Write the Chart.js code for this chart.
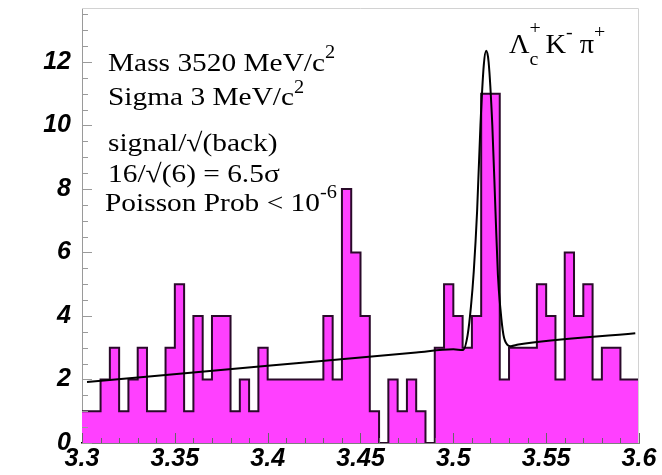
<!DOCTYPE html>
<html>
<head>
<meta charset="utf-8">
<script src="https://cdn.jsdelivr.net/npm/chart.js@4.4.0/dist/chart.umd.min.js"></script>
<style>
  html, body { margin: 0; padding: 0; background: #fff; }
  #wrap { width: 662px; height: 475px; }
</style>
</head>
<body>
<div id="wrap"><canvas id="massChart" width="662" height="475"></canvas></div>
<script>
// histogram: 60 bins of 5 MeV from 3.300 to 3.600 GeV
const binStart = 3.3;
const binWidth = 0.005;
const counts = [
  1, 1, 2, 3, 1, 2, 3, 1, 1, 3,
  5, 1, 4, 2, 4, 4, 1, 2, 1, 3,
  2, 2, 2, 2, 2, 2, 4, 2, 8, 6,
  4, 1, 0, 2, 1, 2, 1, 0, 3, 5,
  4, 3, 4, 11, 11, 2, 3, 3, 3, 5,
  4, 2, 6, 4, 5, 2, 3, 3, 2, 2
];

// fit curve (gaussian + linear background)
const fitMass = [3.3027, 3.40, 3.48, 3.500, 3.5052, 3.5077, 3.5095, 3.511, 3.5128, 3.5146, 3.5164, 3.5177,
  3.519, 3.521, 3.5227, 3.524, 3.5254, 3.527, 3.529, 3.531, 3.535, 3.598];
const fitValue = [1.92, 2.43, 2.85, 2.95, 2.93, 3.4, 4.3, 5.4, 7.3, 10.0, 11.9, 12.35,
  12.0, 10.0, 7.3, 5.3, 4.2, 3.4, 3.1, 3.05, 3.1, 3.46];

const xTicks = [3.3, 3.35, 3.4, 3.45, 3.5, 3.55, 3.6];
const yTicks = [0, 2, 4, 6, 8, 10, 12];

const infoLines = [
  { x: 108, y: 70.5, parts: [{ t: "Mass 3520 MeV/c" }, { t: "2", sup: true }] },
  { x: 108, y: 105, parts: [{ t: "Sigma 3 MeV/c" }, { t: "2", sup: true }] },
  { x: 108, y: 150.5, parts: [{ t: "signal/√(back)" }] },
  { x: 108, y: 181.5, parts: [{ t: "16/√(6) = 6.5σ" }] },
  { x: 105, y: 210.5, parts: [{ t: "Poisson Prob < 10" }, { t: "-6", sup: true }] }
];

const histPoints = counts.map((c, i) => ({ x: +(binStart + i * binWidth).toFixed(3), y: c }));
histPoints.push({ x: 3.6, y: counts[counts.length - 1] });
histPoints.push({ x: 3.6, y: 0 });

const fitPoints = fitMass.map((m, i) => ({ x: m, y: fitValue[i] }));

const tickFont = { family: "Liberation Sans", size: 25, weight: "bold", style: "italic" };

function drawRich(ctx, x, y, parts, size, sx) {
  ctx.save();
  ctx.translate(x, y);
  ctx.scale(sx, 1);
  let cx = 0;
  parts.forEach((p) => {
    const fs = p.size || (p.sup ? 18 : size);
    ctx.font = `${fs}px "Liberation Serif"`;
    const dy = p.dy !== undefined ? p.dy : (p.sup ? -12.5 : 0);
    ctx.fillText(p.t, cx, dy);
    if (!p.keep) cx += ctx.measureText(p.t).width;
  });
  ctx.restore();
}

const decorPlugin = {
  id: "decor",
  afterDatasetsDraw(chart) {
    const { ctx, chartArea: a, scales: { x, y } } = chart;
    ctx.save();
    // frame top / right
    ctx.strokeStyle = "#d2d2d2";
    ctx.lineWidth = 1;
    ctx.beginPath();
    ctx.moveTo(a.left, a.top + 0.5);
    ctx.lineTo(a.right - 0.5, a.top + 0.5);
    ctx.lineTo(a.right - 0.5, a.bottom);
    ctx.stroke();

    // x ticks inside, every 10 MeV
    ctx.strokeStyle = "#666";
    for (let k = 0; k <= 30; k++) {
      const px = Math.round(x.getPixelForValue(3.3 + k * 0.01)) + 0.5;
      const len = k % 5 === 0 ? 10 : 5;
      ctx.beginPath();
      ctx.moveTo(px, a.bottom);
      ctx.lineTo(px, a.bottom - len);
      ctx.stroke();
    }
    // y ticks inside, every 0.5
    ctx.strokeStyle = "#9a9a9a";
    for (let k = 0; k <= 27; k++) {
      const py = Math.round(y.getPixelForValue(k * 0.5)) + 0.5;
      const len = k % 4 === 0 ? 10 : 6;
      ctx.beginPath();
      ctx.moveTo(a.left, py);
      ctx.lineTo(a.left + len, py);
      ctx.stroke();
    }
    ctx.restore();
  },
  afterDraw(chart) {
    const ctx = chart.ctx;
    ctx.save();
    ctx.fillStyle = "#000";
    ctx.textBaseline = "alphabetic";
    infoLines.forEach((l) => drawRich(ctx, l.x, l.y, l.parts, 26, 1.13));
    drawRich(ctx, 509, 53, [
      { t: "Λ" },
      { t: "+", size: 19, dy: -19, keep: true },
      { t: "c", size: 19, dy: 12 },
      { t: " K" },
      { t: "-", size: 19, dy: -15 },
      { t: " π" },
      { t: "+", size: 19, dy: -15 }
    ], 27, 1.05);
    ctx.restore();
  }
};

new Chart(document.getElementById("massChart"), {
  type: "line",
  data: {
    datasets: [
      {
        label: "fit",
        data: fitPoints,
        borderColor: "#000",
        borderWidth: 2,
        pointRadius: 0,
        fill: false,
        cubicInterpolationMode: "monotone",
        order: 0
      },
      {
        label: "events",
        data: histPoints,
        stepped: "before",
        borderColor: "#2a0a2a",
        borderWidth: 2,
        backgroundColor: "#ff40ff",
        fill: "origin",
        pointRadius: 0,
        order: 1
      }
    ]
  },
  options: {
    responsive: false,
    animation: false,
    layout: { padding: { top: 8, right: 23, left: 0, bottom: 0 } },
    plugins: {
      legend: { display: false },
      tooltip: { enabled: false }
    },
    scales: {
      x: {
        type: "linear",
        min: 3.3,
        max: 3.6,
        afterBuildTicks: (s) => { s.ticks = xTicks.map((v) => ({ value: v })); },
        afterFit: (s) => { s.height = 32; s.paddingLeft = 0; s.paddingRight = 0; },
        grid: { display: false, drawTicks: false },
        border: { display: true, color: "#000", width: 1.5 },
        ticks: {
          font: tickFont,
          color: "#000",
          padding: 1,
          maxRotation: 0,
          autoSkip: false,
          callback: (v) => String(+v.toFixed(2))
        }
      },
      y: {
        min: 0,
        max: 13.7,
        afterBuildTicks: (s) => { s.ticks = yTicks.map((v) => ({ value: v })); },
        afterFit: (s) => { s.width = 82; s.paddingTop = 0; s.paddingBottom = 0; },
        grid: { display: false, drawTicks: false },
        border: { display: true, color: "#9a9a9a", width: 1 },
        ticks: {
          font: tickFont,
          color: "#000",
          padding: 11,
          callback: (v) => String(v)
        }
      }
    }
  },
  plugins: [decorPlugin]
});
</script>
</body>
</html>
